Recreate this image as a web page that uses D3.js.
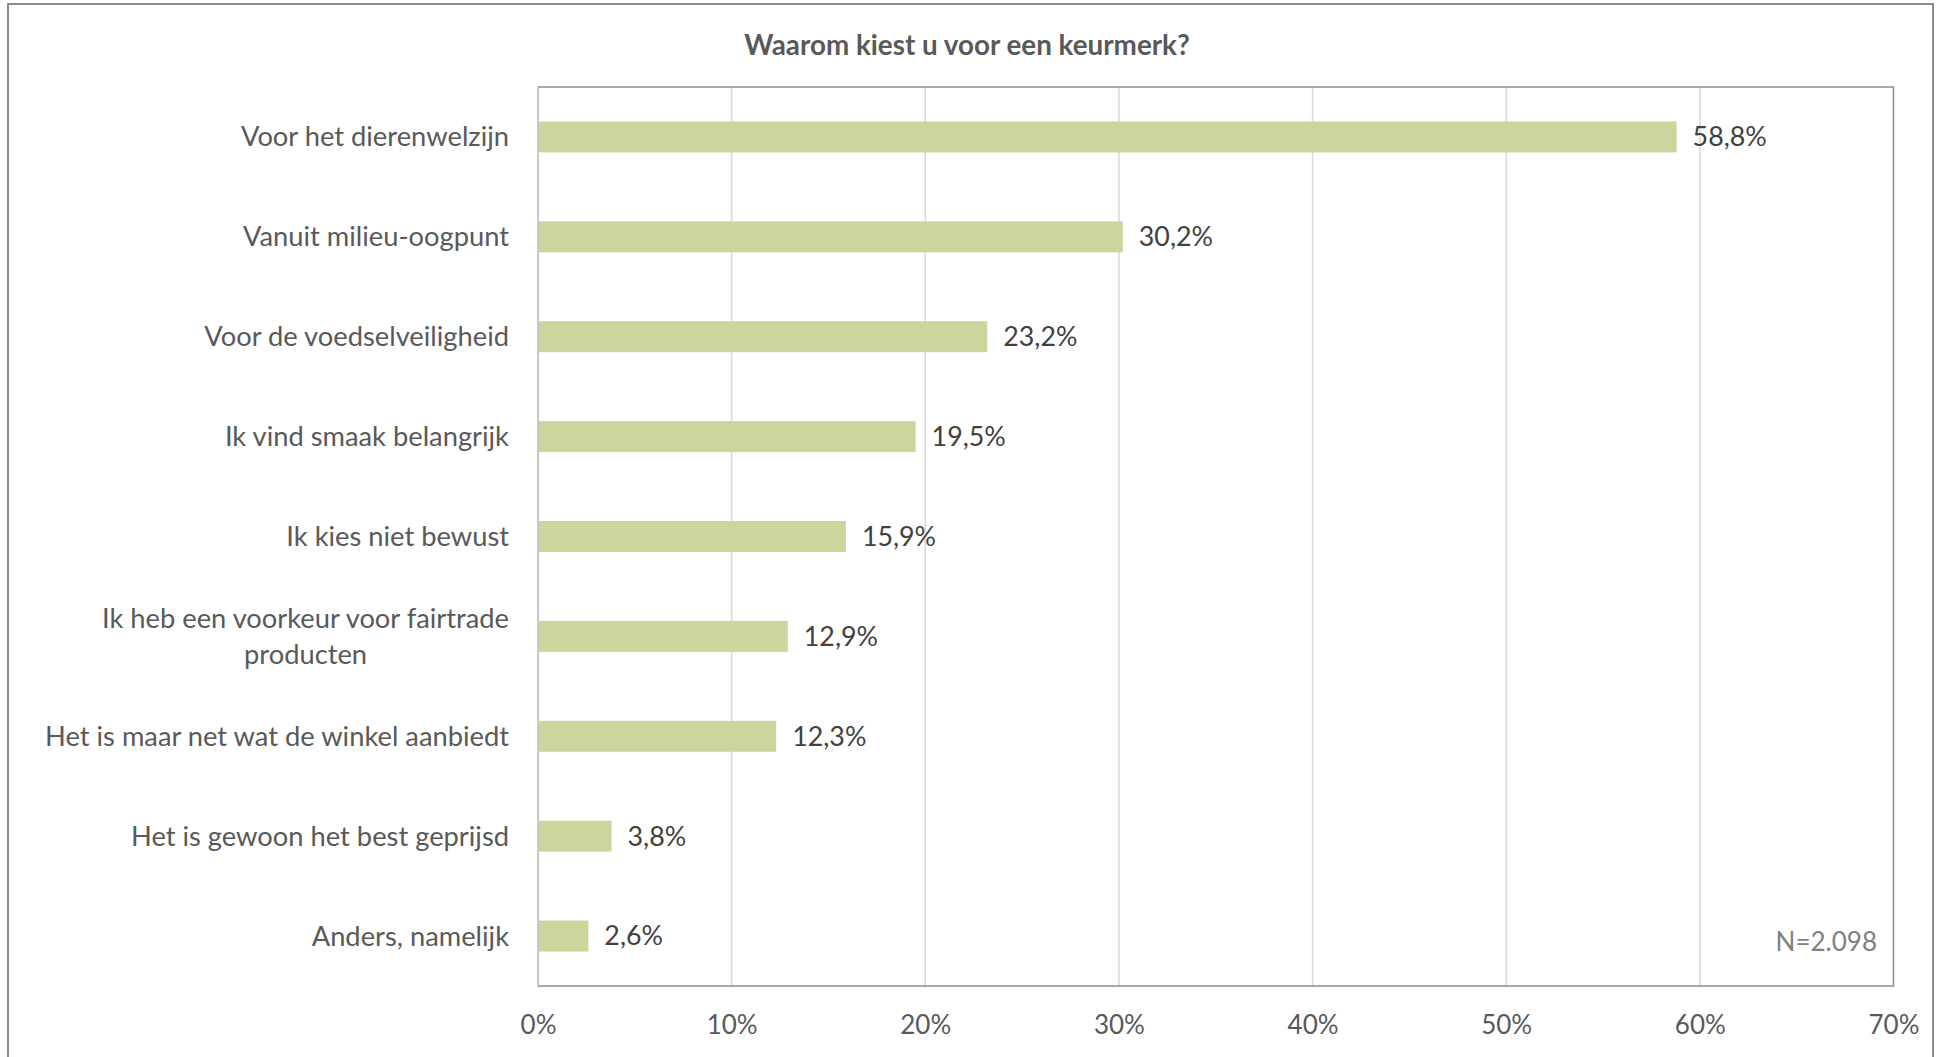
<!DOCTYPE html>
<html>
  <head>
    <script src="https://d3js.org/d3.v7.min.js"></script>
    <style>
      body {margin: 0; background: #fff;}
      text {font-family: Lato, "Open Sans", sans-serif;}
      #grid line {stroke: #d9d9d9; stroke-width: 1.5;}
      #xaxis text {fill: #595959; font-size: 26px;}
    </style>
  </head>
  <body>
    <svg id="chart" width="1943" height="1057">
      <g id="grid"/>
      <g id="bars"/>
      <g id="xaxis"/>
      <g id="ylabels"/>
      <g id="values"/>
    </svg>
  </body>
  <script>
      let width = 1943, height = 1057;
      let plot = {left: 538, right: 1893.5, top: 87, bottom: 986};

      let title = "Waarom kiest u voor een keurmerk?";
      let categories = [
          "Voor het dierenwelzijn",
          "Vanuit milieu-oogpunt",
          "Voor de voedselveiligheid",
          "Ik vind smaak belangrijk",
          "Ik kies niet bewust",
          "Ik heb een voorkeur voor fairtrade\nproducten",
          "Het is maar net wat de winkel aanbiedt",
          "Het is gewoon het best geprijsd",
          "Anders, namelijk"
      ];
      let values = [58.8, 30.2, 23.2, 19.5, 15.9, 12.9, 12.3, 3.8, 2.6];
      let xTicks = [0, 10, 20, 30, 40, 50, 60, 70];
      let note = "N=2.098";

      let svg = d3.select("#chart");

      // outer frame, bottom edge runs off the page
      svg.insert("rect", ":first-child")
          .attr("x", 8).attr("y", 4).attr("width", 1925).attr("height", 1100)
          .attr("fill", "#fff").attr("stroke", "#8c8c8c").attr("stroke-width", 2);

      let x = d3.scaleLinear().domain([0, 70]).range([plot.left, plot.right]);
      let y = d3.scaleBand().domain(categories).range([plot.top, plot.bottom])
          .paddingInner(0.69).paddingOuter(0.345);

      // gridlines
      d3.select("#grid").selectAll("line").data(xTicks.slice(1, -1)).enter()
          .append("line")
          .attr("x1", d => x(d)).attr("x2", d => x(d))
          .attr("y1", plot.top).attr("y2", plot.bottom);

      // plot frame
      svg.append("rect")
          .attr("x", plot.left).attr("y", plot.top)
          .attr("width", plot.right - plot.left).attr("height", plot.bottom - plot.top)
          .attr("fill", "none").attr("stroke", "#8c8c8c").attr("stroke-width", 1.5);
      svg.append("line")
          .attr("x1", plot.left).attr("x2", plot.left)
          .attr("y1", plot.top).attr("y2", plot.bottom)
          .attr("stroke", "#c8c8c8").attr("stroke-width", 2);

      d3.select("#bars").selectAll("rect").data(values).enter()
          .append("rect")
          .attr("x", x(0))
          .attr("y", (d, i) => y(categories[i]))
          .attr("width", d => x(d) - x(0))
          .attr("height", y.bandwidth())
          .attr("fill", "#cad69b");

      // x axis labels
      let xAxis = d3.axisBottom(x).tickValues(xTicks).tickFormat(d => d + "%")
          .tickSize(0).tickPadding(30);
      d3.select("#xaxis").attr("transform", `translate(0,${plot.bottom})`).call(xAxis)
          .call(g => g.select(".domain").remove())
          .selectAll("text").attr("font-family", null);

      // category labels, multi-line ones centred in their block
      let labelRight = 509;
      categories.forEach(c => {
          let lines = c.split("\n");
          let cy = y(c) + y.bandwidth() / 2;
          let t = d3.select("#ylabels").append("text")
              .attr("font-size", 27.3).attr("fill", "#595959");
          lines.forEach((ln, j) => {
              t.append("tspan").text(ln)
                  .attr("y", cy + (j - (lines.length - 1) / 2) * 36)
                  .attr("dy", "0.35em");
          });
          if (lines.length == 1) {
              t.attr("text-anchor", "end").selectAll("tspan").attr("x", labelRight);
          } else {
              let w = d3.max(t.selectAll("tspan").nodes(), n => n.getComputedTextLength());
              t.attr("text-anchor", "middle").selectAll("tspan").attr("x", labelRight - w / 2);
          }
      });

      d3.select("#values").selectAll("text").data(values).enter()
          .append("text")
          .attr("x", d => x(d) + 16)
          .attr("y", (d, i) => y(categories[i]) + y.bandwidth() / 2)
          .attr("dy", "0.35em")
          .attr("font-size", 26.8).attr("fill", "#404040")
          .text(d => d.toFixed(1).replace(".", ",") + "%");

      svg.append("text")
          .attr("x", 967).attr("y", 45).attr("dy", "0.35em")
          .attr("text-anchor", "middle")
          .attr("font-size", 27.8).attr("font-weight", "bold").attr("fill", "#595959")
          .text(title);

      svg.append("text")
          .attr("x", 1877).attr("y", 942).attr("dy", "0.35em")
          .attr("text-anchor", "end")
          .attr("font-size", 26).attr("fill", "#808080")
          .text(note);
  </script>
</html>
